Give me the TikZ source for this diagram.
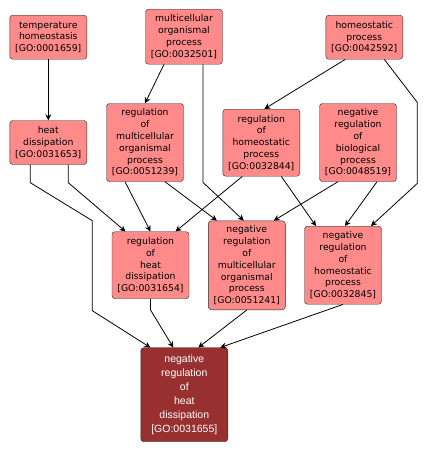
\documentclass[tikz,border=0pt]{standalone}
\usepackage{fontspec}
\setmainfont{DejaVu Sans}
\newfontfamily\selfont{Liberation Sans}
\usetikzlibrary{arrows.meta}
\definecolor{termfill}{RGB}{255,138,138}
\definecolor{selfill}{RGB}{153,48,48}
\definecolor{termline}{RGB}{40,40,40}
\tikzset{
	goterm/.style={draw=termline, fill=termfill, rounded corners=3pt, align=center, inner sep=0pt, minimum width=77pt, font=\fontsize{9.3}{11.8}\selectfont},
	goself/.style={goterm, fill=selfill, text=white, minimum width=87pt, font=\selfont\fontsize{10.5}{13.9}\selectfont},
	isa/.style={-{Stealth[length=6pt,width=6pt,inset=2pt]}, line width=0.8pt}
}
\begin{document}
\begin{tikzpicture}[x=1pt,y=-1pt]
		\useasboundingbox (0,0) rectangle (426,453);
		\node[goterm, minimum height=44pt] (th) at (48.3,37.2) {temperature\\homeostasis\\{[GO:0001659]}};
		\node[goterm, minimum height=55pt] (mop) at (184,36.7) {multicellular\\organismal\\process\\{[GO:0032501]}};
		\node[goterm, minimum height=44pt] (hp) at (364.3,37.2) {homeostatic\\process\\{[GO:0042592]}};
		\node[goterm, minimum height=44pt] (hd) at (48.3,142.5) {heat\\dissipation\\{[GO:0031653]}};
		\node[goterm, minimum height=78pt] (rmop) at (145,142.5) {regulation\\of\\multicellular\\organismal\\process\\{[GO:0051239]}};
		\node[goterm, minimum height=67pt] (rhp) at (261.3,142.7) {regulation\\of\\homeostatic\\process\\{[GO:0032844]}};
		\node[goterm, minimum height=78pt] (nrbp) at (358,142.5) {negative\\regulation\\of\\biological\\process\\{[GO:0048519]}};
		\node[goterm, minimum height=67pt] (rhd) at (150.5,265.2) {regulation\\of\\heat\\dissipation\\{[GO:0031654]}};
		\node[goterm, minimum height=89pt] (nrmop) at (246.8,265.3) {negative\\regulation\\of\\multicellular\\organismal\\process\\{[GO:0051241]}};
		\node[goterm, minimum height=78pt] (nrhp) at (343,265.2) {negative\\regulation\\of\\homeostatic\\process\\{[GO:0032845]}};
		\node[goself, minimum height=94pt] (nrhd) at (184.3,394.7) {negative\\regulation\\of\\heat\\dissipation\\{[GO:0031655]}};
		% is_a links
		\draw[isa] (th) -- (hd);
		\draw[isa] ([xshift=-20pt]mop.south) -- (rmop.north);
		\draw[isa] ([xshift=19pt]mop.south) -- ++(0,118) -- ([xshift=-3pt]nrmop.north);
		\draw[isa] ([xshift=-19pt]hp.south) -- ([xshift=3pt]rhp.north);
		\draw[isa] ([xshift=20pt]hp.south) -- ++(33,43) -- ++(0,81) -- ([xshift=28pt]nrhp.north);
		\draw[isa] ([xshift=-18pt]hd.south) -- ++(0,18) -- ++(62,38) -- ++(0,90) -- ([xshift=-34pt]nrhd.north);
		\draw[isa] ([xshift=20pt]hd.south) -- ++(0,18) -- ([xshift=-25pt]rhd.north);
		\draw[isa] ([xshift=-20pt]rmop.south) -- (rhd.north);
		\draw[isa] ([xshift=20pt]rmop.south) -- ([xshift=-30pt]nrmop.north);
		\draw[isa] ([xshift=-19pt]rhp.south) -- ([xshift=25pt]rhd.north);
		\draw[isa] ([xshift=20pt]rhp.south) -- ([xshift=-27pt]nrhp.north);
		\draw[isa] ([xshift=-20pt]nrbp.south) -- ([xshift=27pt]nrmop.north);
		\draw[isa] ([xshift=19pt]nrbp.south) -- ([xshift=2pt]nrhp.north);
		\draw[isa] (rhd.south) -- ++(0,11) -- ([xshift=-11pt]nrhd.north);
		\draw[isa] (nrmop.south) -- ([xshift=14pt]nrhd.north);
		\draw[isa] (nrhp.south) -- ([xshift=36pt]nrhd.north);
	\end{tikzpicture}
\end{document}
